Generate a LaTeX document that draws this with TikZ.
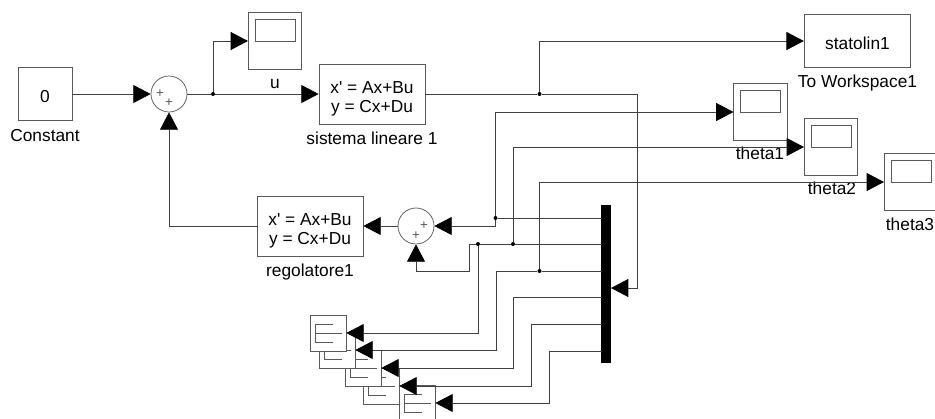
\documentclass[tikz,border=0pt]{standalone}
\usepackage{fontspec}
\newfontfamily\blockfont{Liberation Sans}
\usetikzlibrary{calc,arrows.meta,positioning}
\definecolor{edgegray}{gray}{0.35}
\definecolor{wiregray}{gray}{0.25}

\begin{document}
\begin{tikzpicture}[
x=0.75pt, y=-0.75pt,
block/.style={rectangle, draw=edgegray, fill=white, line width=0.55pt, inner sep=0pt, font=\blockfont\fontsize{13}{14}\selectfont},
constantblock/.style={block, minimum width=40.5pt, minimum height=40pt, execute at begin node={\rule{0pt}{12.2pt}}},
statespace/.style={block, minimum width=79.5pt, minimum height=45pt, align=center},
workspaceblock/.style={block, minimum width=80pt, minimum height=40pt, execute at begin node={\rule{0pt}{12.2pt}}},
sumblock/.style={circle, draw=edgegray, fill=white, line width=0.55pt, inner sep=0pt, minimum size=27pt},
sumsign/.style={inner sep=0pt, text=edgegray, font=\blockfont\fontsize{10}{10}\selectfont},
scopeblock/.style={block, minimum width=40pt, minimum height=42.5pt,
	path picture={\draw[edgegray, line width=0.55pt]
		($(path picture bounding box.center)+(-15pt,16.5pt)$) rectangle
		($(path picture bounding box.center)+(15pt,0pt)$);}},
logblock/.style={block, minimum size=27pt,
	path picture={\draw[edgegray, line width=0.55pt, shift={(path picture bounding box.center)}]
		(3.75pt,6.75pt) -- (-9.75pt,6.75pt) -- (-9.75pt,-6.75pt) -- (3.75pt,-6.75pt)
		(-9.75pt,0pt) -- (10.5pt,0pt);}},
muxbar/.style={rectangle, fill=black, inner sep=0pt, minimum width=7.5pt, minimum height=118.5pt},
branch/.style={circle, fill=black, inner sep=0pt, minimum size=3pt},
blocklabel/.style={inner sep=0pt, font=\blockfont\fontsize{13}{13}\selectfont},
wire/.style={draw=wiregray, line width=0.55pt},
signal/.style={wire, -{Triangle[length=13pt,width=13.5pt,color=black]}}
]
\useasboundingbox (0,0) rectangle (935,418);

%Nodes
\node[constantblock]   (constant)  at (45,94)      {0};
\node[sumblock]        (suminput)  at (169,94)     {};
\node[scopeblock]      (scopeu)    at (275,41)     {};
\node[statespace]      (sistema)   at (372,94)     {\rule{0pt}{16.5pt}x' = Ax+Bu\\ y = Cx+Du};
\node[workspaceblock]  (statolin)  at (857.5,41)   {statolin1};
\node[scopeblock]      (scopea)    at (760.5,112)  {};
\node[scopeblock]      (scopeb)    at (831,147)    {};
\node[scopeblock]      (scopec)    at (911,182)    {};
\node[statespace]      (regolatore) at (310,226)   {\rule{0pt}{16.5pt}x' = Ax+Bu\\ y = Cx+Du};
\node[sumblock]        (sumreg)    at (416,226)    {};
\node[muxbar]          (mux)       at (606,284)    {};
\node[logblock]        (loge)      at (417,403)    {};
\node[logblock]        (logd)      at (381,386)    {};
\node[logblock]        (logc)      at (363,368)    {};
\node[logblock]        (logb)      at (337,350)    {};
\node[logblock]        (loga)      at (328,333)    {};

\node[sumsign] (signa) at (160,94)  {+};
\node[sumsign] (signb) at (169,103) {+};
\node[sumsign] (signc) at (424,226) {+};
\node[sumsign] (signd) at (416,236) {+};

\node[blocklabel] (constantl)   [below=6pt of constant]   {Constant};
\node[blocklabel] (scopeul)     at (275,84)               {u};
\node[blocklabel] (sistemal)    [below=5.5pt of sistema]  {sistema lineare 1};
\node[blocklabel] (statolinl)   [below=5pt of statolin]   {To Workspace1};
\node[blocklabel] (regolatorel) [below=5.5pt of regolatore] {regolatore1};
\node[blocklabel] (scopeal)     at (760,153)              {theta1};
\node[blocklabel] (scopebl)     at (832,188)              {theta2};
\node[blocklabel] (scopecl)     at (910,224)              {theta3};

\node[branch] (ju) at (213,94)    {};
\node[branch] (jy) at (539.5,94)  {};
\node[branch] (ja) at (495.5,218) {};
\node[branch] (jb) at (513,244)   {};
\node[branch] (jc) at (478,244)   {};
\node[branch] (jd) at (539.5,271) {};

%Corners
\coordinate (ycorner) at (637,94);
\coordinate (muxin)   at (611,288);
\coordinate (ma) at (602,218);
\coordinate (mb) at (602,244);
\coordinate (mc) at (602,271);
\coordinate (md) at (602,297);
\coordinate (me) at (602,324);
\coordinate (mf) at (602,351);
\coordinate (cb) at (469,244);
\coordinate (cbd) at (469,271);
\coordinate (cc) at (496,271);
\coordinate (cd) at (513,297);
\coordinate (ce) at (531,324);
\coordinate (cf) at (549,351);

%Lines
\draw[signal] (constant.east) -- (suminput.west);
\draw[wire]   (suminput.east) -- (ju);
\draw[signal] (ju) -- (sistema.west);
\draw[signal] (ju) |- (scopeu.west);
\draw[wire]   (sistema.east) -- (jy);
\draw[signal] (jy) -- (ycorner) |- (muxin);
\draw[signal] (jy) |- (statolin.west);
\draw[wire]   (ma) -- (ja);
\draw[signal] (ja) |- (scopea.west);
\draw[signal] (ja) |- (sumreg.east);
\draw[wire]   (mb) -- (jb) -- (jc);
\draw[signal] (jb) |- (scopeb.west);
\draw[signal] (jc) -- (cb) -- (cbd) -| (sumreg.south);
\draw[signal] (jc) |- (loga.east);
\draw[wire]   (mc) -- (jd);
\draw[signal] (jd) |- (scopec.west);
\draw[signal] (jd) -- (cc) |- (logb.east);
\draw[signal] (md) -- (cd) |- (logc.east);
\draw[signal] (me) -- (ce) |- (logd.east);
\draw[signal] (mf) -- (cf) |- (loge.east);
\draw[signal] (sumreg.west) -- (regolatore.east);
\draw[signal] (regolatore.west) -| (suminput.south);

\end{tikzpicture}
\end{document}
